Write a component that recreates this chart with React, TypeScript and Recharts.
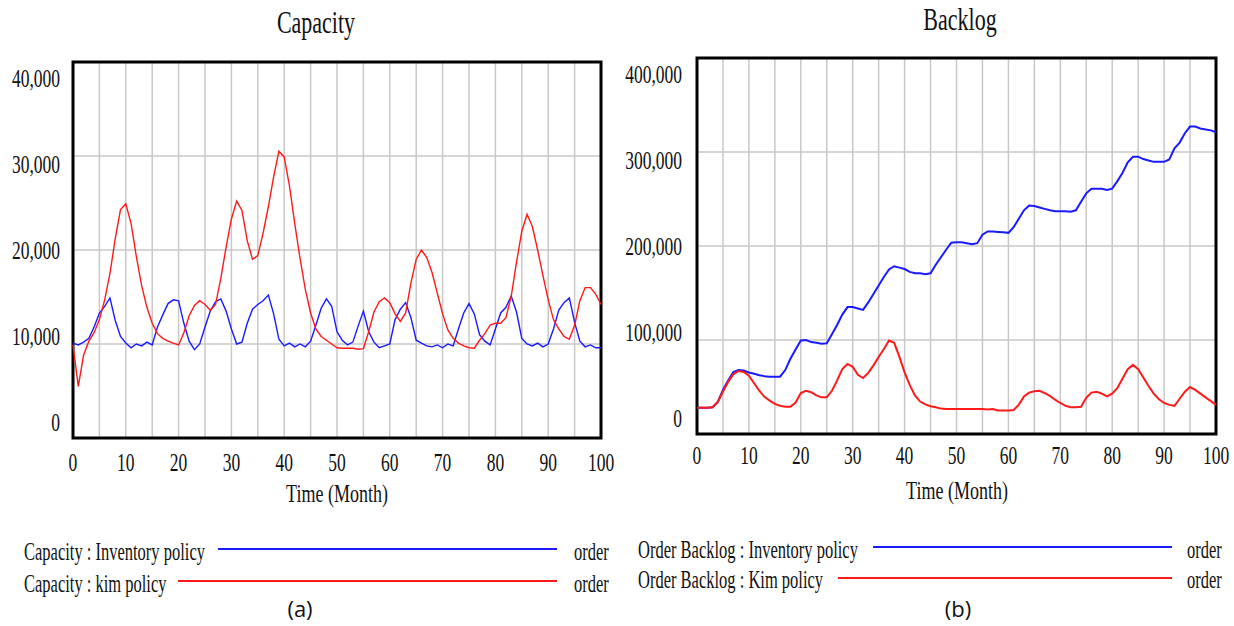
import { LineChart, Line, XAxis, YAxis, CartesianGrid, ReferenceArea } from 'recharts';

const SERIF = "'Liberation Serif', 'Times New Roman', serif";
const BLUE = '#1a1aff';
const RED = '#ff1a1a';

// time axis, months 0..100
const months = [
  0, 1, 2, 3, 4, 5, 6, 7, 8, 9, 10, 11, 12, 13, 14, 15, 16, 17, 18, 19, 20,
  21, 22, 23, 24, 25, 26, 27, 28, 29, 30, 31, 32, 33, 34, 35, 36, 37, 38, 39, 40,
  41, 42, 43, 44, 45, 46, 47, 48, 49, 50, 51, 52, 53, 54, 55, 56, 57, 58, 59, 60,
  61, 62, 63, 64, 65, 66, 67, 68, 69, 70, 71, 72, 73, 74, 75, 76, 77, 78, 79, 80,
  81, 82, 83, 84, 85, 86, 87, 88, 89, 90, 91, 92, 93, 94, 95, 96, 97, 98, 99, 100,
];
const xTicks = [0, 5, 10, 15, 20, 25, 30, 35, 40, 45, 50, 55, 60, 65, 70, 75, 80, 85, 90, 95, 100];

// (a) Capacity
const capacityTicks = [0, 10000, 20000, 30000, 40000];
const capacityInventory = [
  10100, 9900, 10200, 10600, 11800, 13300, 14000, 14900, 12500, 10800,
  10100, 9600, 10000, 9800, 10200, 9900, 11800, 13100, 14300, 14700,
  14600, 12200, 10300, 9400, 10000, 11800, 13500, 14500, 14800, 13500,
  11600, 10000, 10200, 12200, 13700, 14200, 14600, 15200, 13200, 10500,
  9800, 10100, 9700, 10000, 9700, 10300, 12000, 13800, 14800, 14000,
  11300, 10400, 9900, 10200, 11900, 13500, 11300, 10200, 9600, 9800,
  10000, 12600, 13700, 14400, 12800, 10400, 10100, 9800, 9700, 9900,
  9600, 10000, 9800, 11600, 13300, 14300, 13200, 11000, 10300, 9900,
  11600, 13300, 13900, 15100, 13400, 10600, 10000, 9800, 10100, 9700,
  10000, 11600, 13600, 14400, 14900, 12300, 10300, 9700, 9900, 9600,
  9600,
];
const capacityKim = [
  9900, 5500, 8800, 10300, 11200, 12600, 14700, 17500, 21200, 24300,
  24900, 22800, 19300, 16200, 13900, 12200, 11100, 10600, 10300, 10100,
  9900, 11200, 13000, 14100, 14600, 14200, 13600, 14200, 17000, 20300,
  23300, 25200, 24200, 21000, 19000, 19400, 21800, 24600, 27800, 30500,
  29900, 26800, 22800, 19100, 15800, 13300, 11600, 10800, 10400, 10000,
  9600, 9550, 9550, 9550, 9450, 9500, 11300, 13400, 14500, 14900,
  14400, 13200, 12400, 13300, 16500, 19000, 20000, 19200, 17600, 15400,
  13200, 11500, 10600, 10100, 9800, 9600, 9550, 10400, 11100, 12000,
  12200, 12200, 12800, 15100, 18700, 22000, 23800, 22500, 20000, 17300,
  14700, 12600, 11600, 10800, 10500, 12000, 14600, 16000, 16000, 15300,
  14200,
];

// (b) Backlog
const backlogTicks = [0, 100000, 200000, 300000, 400000];
const backlogInventory = [
  28000, 28000, 28000, 28500, 34000, 47000, 57000, 66000, 68000, 67500,
  65500, 64000, 62500, 61500, 61000, 61000, 61000, 68000, 80000, 90000,
  99500, 100000, 97800, 97000, 96000, 96500, 106000, 116000, 127000, 135000,
  135000, 133500, 132000, 140000, 149000, 158000, 167000, 175000, 178500, 177000,
  175500, 172500, 171000, 171000, 170000, 171000, 180000, 188000, 196000, 203500,
  204000, 204000, 203000, 202000, 203000, 212000, 215500, 215500, 215000, 214500,
  214000, 220000, 229000, 238000, 243000, 242500, 241000, 239500, 238000, 237000,
  237000, 237000, 236500, 238000, 247000, 256000, 261000, 261000, 261000, 259500,
  261000, 269000, 278000, 289000, 295000, 295000, 292500, 291000, 289500, 289500,
  289500, 292000, 304000, 310000, 320000, 327000, 327000, 325000, 324000, 323000,
  321000,
];
const backlogKim = [
  28000, 28000, 28000, 28500, 34000, 45000, 55500, 63500, 67000, 66000,
  62000, 54000, 46000, 39500, 35500, 32000, 30000, 29000, 29000, 33500,
  43500, 46000, 44500, 41000, 39000, 39000, 46000, 57000, 69000, 74500,
  71500, 63000, 59500, 65000, 73000, 82000, 90500, 99500, 97000, 82000,
  65500, 52000, 41000, 34500, 31500, 29500, 28500, 27000, 26500, 26500,
  26500, 26500, 26500, 26500, 26500, 26500, 26000, 26500, 25000, 25000,
  25000, 25500, 31000, 40000, 44000, 45500, 46000, 43500, 40500, 36500,
  33000, 30000, 28500, 28500, 29000, 38500, 44000, 45000, 43000, 40000,
  43000, 49000, 59000, 69000, 73500, 69000, 60000, 51000, 43000, 37000,
  33000, 31000, 30000, 37500, 45000, 50000, 47000, 43000, 39000, 35000,
  31000,
];

const capacityData = months.map((t, i) => ({ t, inv: capacityInventory[i], kim: capacityKim[i] }));
const backlogData = months.map((t, i) => ({ t, inv: backlogInventory[i], kim: backlogKim[i] }));

const makeYTick = (mid: number) => (props: any) => {
  const { x, y, payload } = props;
  const ly = mid + (y - mid) * 0.915;
  return (
    <text
      transform={`translate(${x},${ly}) scale(1,1.5)`}
      textAnchor="end"
      dy="0.35em"
      fontSize={17.5}
      fontFamily={SERIF}
      fill="#111"
    >
      {Number(payload.value).toLocaleString('en-US')}
    </text>
  );
};

const makeXTick = (offset: number) => (props: any) => {
  const { x, y, payload } = props;
  if (payload.value % 10 !== 0) return <g />;
  return (
    <text
      transform={`translate(${x},${y + offset}) scale(1,1.5)`}
      textAnchor="middle"
      dy="0.35em"
      fontSize={17.5}
      fontFamily={SERIF}
      fill="#111"
    >
      {payload.value}
    </text>
  );
};

function Label({ x, y, text, size, sy = 1.5, anchor = 'start' }: any) {
  return (
    <text
      transform={`translate(${x},${y}) scale(1,${sy})`}
      textAnchor={anchor}
      dy="0.35em"
      fontSize={size}
      fontFamily={SERIF}
      fill="#111"
    >
      {text}
    </text>
  );
}

export default function App() {
  return (
    <div style={{ position: 'absolute', left: 0, top: 0, width: 1234, height: 626, background: '#fff' }}>
      <div style={{ position: 'absolute', left: 0, top: 0 }}>
        <LineChart width={620} height={480} data={capacityData} margin={{ top: 62, right: 19, bottom: 12, left: 0 }}>
          <CartesianGrid stroke="#c8c8c8" strokeWidth={1.5} />
          <XAxis
            dataKey="t"
            type="number"
            domain={[0, 100]}
            ticks={xTicks}
            height={30}
            axisLine={false}
            tickLine={false}
            tickSize={0}
            tickMargin={0}
            tick={makeXTick(24)}
            interval={0}
          />
          <YAxis
            type="number"
            domain={[0, 40000]}
            ticks={capacityTicks}
            width={73}
            axisLine={false}
            tickLine={false}
            tickSize={0}
            tickMargin={13}
            tick={makeYTick(250)}
            interval={0}
          />
          <Line type="linear" dataKey="inv" stroke={BLUE} strokeWidth={1.4} dot={false} isAnimationActive={false} />
          <Line type="linear" dataKey="kim" stroke={RED} strokeWidth={1.4} dot={false} isAnimationActive={false} />
          <ReferenceArea x1={0} x2={100} y1={0} y2={40000} fill="none" stroke="#000" strokeWidth={3} ifOverflow="visible" />
        </LineChart>
      </div>
      <div style={{ position: 'absolute', left: 620, top: 0 }}>
        <LineChart width={614} height={476} data={backlogData} margin={{ top: 58, right: 18, bottom: 12, left: 0 }}>
          <CartesianGrid stroke="#c8c8c8" strokeWidth={1.5} />
          <XAxis
            dataKey="t"
            type="number"
            domain={[0, 100]}
            ticks={xTicks}
            height={30}
            axisLine={false}
            tickLine={false}
            tickSize={0}
            tickMargin={0}
            tick={makeXTick(21)}
            interval={0}
          />
          <YAxis
            type="number"
            domain={[0, 400000]}
            ticks={backlogTicks}
            width={77}
            axisLine={false}
            tickLine={false}
            tickSize={0}
            tickMargin={15}
            tick={makeYTick(246)}
            interval={0}
          />
          <Line type="linear" dataKey="inv" stroke={BLUE} strokeWidth={2} dot={false} isAnimationActive={false} />
          <Line type="linear" dataKey="kim" stroke={RED} strokeWidth={2} dot={false} isAnimationActive={false} />
          <ReferenceArea x1={0} x2={100} y1={0} y2={400000} fill="none" stroke="#000" strokeWidth={3} ifOverflow="visible" />
        </LineChart>
      </div>
      <svg width={1234} height={626} style={{ position: 'absolute', left: 0, top: 0, pointerEvents: 'none' }}>
        <Label x={316} y={22} text="Capacity" size={22} sy={1.4} anchor="middle" />
        <Label x={960} y={19} text="Backlog" size={22} sy={1.4} anchor="middle" />
        <Label x={337} y={493} text="Time (Month)" size={18} sy={1.45} anchor="middle" />
        <Label x={957} y={490} text="Time (Month)" size={18} sy={1.45} anchor="middle" />

        <Label x={24} y={551} text="Capacity : Inventory policy" size={16.5} sy={1.55} />
        <line x1={218} x2={557} y1={549} y2={549} stroke={BLUE} strokeWidth={2} />
        <Label x={574} y={551} text="order" size={16.5} sy={1.55} />
        <Label x={24} y={583} text="Capacity : kim policy" size={16.5} sy={1.55} />
        <line x1={178} x2={557} y1={581} y2={581} stroke={RED} strokeWidth={2} />
        <Label x={574} y={583} text="order" size={16.5} sy={1.55} />

        <Label x={638} y={549} text="Order Backlog : Inventory policy" size={16.5} sy={1.55} />
        <line x1={873} x2={1172} y1={547} y2={547} stroke={BLUE} strokeWidth={2} />
        <Label x={1187} y={549} text="order" size={16.5} sy={1.55} />
        <Label x={638} y={579} text="Order Backlog : Kim policy" size={16.5} sy={1.55} />
        <line x1={838} x2={1172} y1={578} y2={578} stroke={RED} strokeWidth={2} />
        <Label x={1187} y={579} text="order" size={16.5} sy={1.55} />

        <text x={300} y={617} textAnchor="middle" fontSize={22} fontFamily="'Open Sans', sans-serif" fill="#111">(a)</text>
        <text x={958} y={617} textAnchor="middle" fontSize={22} fontFamily="'Open Sans', sans-serif" fill="#111">(b)</text>
      </svg>
    </div>
  );
}
